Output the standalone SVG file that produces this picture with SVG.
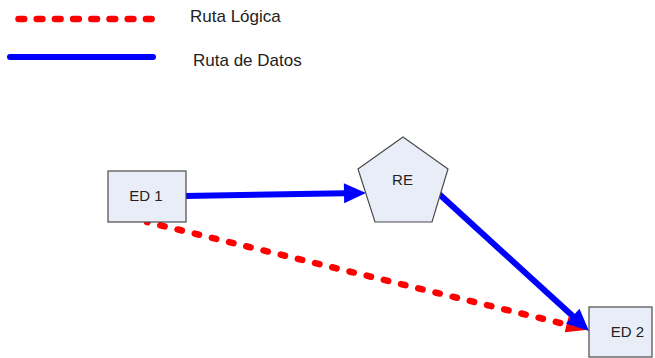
<svg xmlns="http://www.w3.org/2000/svg" width="655" height="358" viewBox="0 0 655 358">
  <style>
    .label { font-family: "Liberation Sans", Arial, sans-serif; fill: #222; }
    .legend { font-size: 17px; }
    .node-text { font-size: 15px; text-anchor: middle; }
    .node-shape { fill: #e8edf7; stroke: #4a4a4a; stroke-width: 1.2; }
    .data { stroke: #0000ff; stroke-width: 6; fill: none; }
    .logic { stroke: #ff0000; stroke-width: 6.5; fill: none; stroke-linecap: round; }
  </style>
  <defs>
    <marker id="arrow-blue" markerUnits="userSpaceOnUse" markerWidth="24" markerHeight="22" refX="0" refY="11" orient="auto" overflow="visible">
      <path d="M-1,1 L21,11 L-1,21 z" fill="#0000ff"/>
    </marker>
    <marker id="arrow-red" markerUnits="userSpaceOnUse" markerWidth="24" markerHeight="18" refX="0" refY="9" orient="auto" overflow="visible">
      <path d="M-1,1 L21,9 L-1,17 z" fill="#ff0000"/>
    </marker>
  </defs>

  <!-- legend -->
  <g id="legend">
    <path class="logic" d="M18.5,19 H151.6" stroke-dasharray="5.7 12.5"/>
    <text class="label legend" x="190" y="22">Ruta Lógica</text>
    <path class="data" d="M10,57 H153" stroke-linecap="round"/>
    <text class="label legend" x="193" y="66">Ruta de Datos</text>
  </g>

  <!-- connectors -->
  <g id="connectors">
    <path class="logic" d="M147,222 L567.6,324.8" stroke-dasharray="4.5 13.2" stroke-dashoffset="4" marker-end="url(#arrow-red)"/>
    <path class="data" d="M184,196 L345,193.3" marker-end="url(#arrow-blue)"/>
    <path class="data" d="M438,193 L573.5,316.8" marker-end="url(#arrow-blue)"/>
  </g>

  <!-- nodes -->
  <g id="ED1">
    <rect class="node-shape" x="108" y="171" width="78" height="51"/>
    <text class="label node-text" x="146" y="201">ED 1</text>
  </g>
  <g id="RE">
    <polygon class="node-shape" points="403,137 448,169 432,222 375,222 358,169"/>
    <text class="label node-text" x="402.5" y="185">RE</text>
  </g>
  <g id="ED2">
    <rect class="node-shape" x="589" y="307" width="63" height="50"/>
    <text class="label node-text" x="627.5" y="337">ED 2</text>
  </g>
</svg>
